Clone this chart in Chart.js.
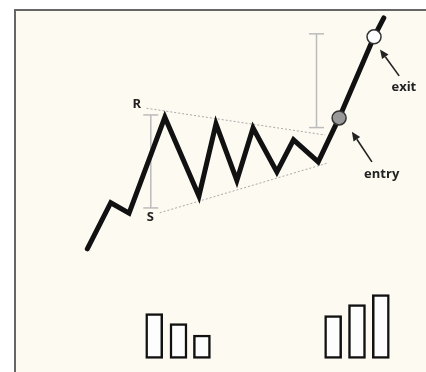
<!DOCTYPE html>
<html>
<head>
<meta charset="utf-8">
<title>Symmetrical triangle breakout</title>
<script src="https://cdn.jsdelivr.net/npm/chart.js@4/dist/chart.umd.min.js"></script>
<style>
  html, body { margin: 0; padding: 0; background: #fff; }
  #chart { display: block; }
</style>
</head>
<body>
<canvas id="chart" width="426" height="372"></canvas>
<script>
// ---- data (x = time, y = price, both on a 0..100 scale) ----
var priceX = [20.5, 26.0, 30.3, 38.7, 46.7, 50.7, 55.6, 59.4, 65.0, 68.9, 74.7, 79.6, 87.8, 90.1];
var priceY = [33.1, 45.5, 42.7, 68.5, 47.3, 66.7, 51.5, 65.6, 53.8, 62.4, 56.5, 68.3, 90.1, 95.2];

var resistX = [34.4, 76.3];
var resistY = [70.9, 63.7];
var supportX = [37.5, 76.7];
var supportY = [42.8, 56.1];

// R-S height of the pattern and the projected target above the breakout
var rangeX = [35.4, 35.4];
var rangeY = [69.1, 44.1];
var targetX = [74.3, 74.3];
var targetY = [90.9, 65.7];

var markerNames = ["entry", "exit"];
var markerX = [79.6, 87.8];
var markerY = [68.3, 90.1];

var volumeX = [36.2, 41.9, 47.4, 78.2, 83.8, 89.4];
var volumeY = [4.5, 3.5, 2.35, 4.3, 5.4, 6.4];

var labelText = ["R", "S", "exit", "entry"];
var labelX = [32.1, 35.3, 94.8, 89.6];
var labelY = [72.0, 41.7, 76.6, 53.2];

// arrows: tail -> tip
var arrowFromX = [93.7, 87.3];
var arrowFromY = [79.6, 56.5];
var arrowToX = [89.2, 82.6];
var arrowToY = [86.7, 64.6];

function pts(xs, ys) {
  return xs.map(function (x, i) { return { x: x, y: ys[i] }; });
}

var CREAM = "#fdfaf1";

var framePlugin = {
  id: "frame",
  beforeDraw: function (chart) {
    var ctx = chart.ctx;
    ctx.save();
    ctx.fillStyle = "#fff";
    ctx.fillRect(0, 0, chart.width, chart.height);
    ctx.fillStyle = CREAM;
    ctx.fillRect(14, 9, chart.width, chart.height);
    ctx.strokeStyle = "#666";
    ctx.lineWidth = 2;
    ctx.beginPath();
    ctx.moveTo(15, chart.height);
    ctx.lineTo(15, 10);
    ctx.lineTo(chart.width, 10);
    ctx.stroke();
    ctx.restore();
  }
};

var notesPlugin = {
  id: "notes",
  afterDatasetsDraw: function (chart) {
    var ctx = chart.ctx;
    var sx = chart.scales.x, sy = chart.scales.y;
    ctx.save();
    // arrows
    ctx.strokeStyle = "#222";
    ctx.fillStyle = "#222";
    ctx.lineWidth = 1.6;
    arrowFromX.forEach(function (fx, i) {
      var x0 = sx.getPixelForValue(fx), y0 = sy.getPixelForValue(arrowFromY[i]);
      var x1 = sx.getPixelForValue(arrowToX[i]), y1 = sy.getPixelForValue(arrowToY[i]);
      var a = Math.atan2(y1 - y0, x1 - x0);
      var head = 9, half = 4;
      var bx = x1 - head * Math.cos(a), by = y1 - head * Math.sin(a);
      ctx.beginPath();
      ctx.moveTo(x0, y0);
      ctx.lineTo(bx, by);
      ctx.stroke();
      ctx.beginPath();
      ctx.moveTo(x1, y1);
      ctx.lineTo(bx + half * Math.sin(a), by - half * Math.cos(a));
      ctx.lineTo(bx - half * Math.sin(a), by + half * Math.cos(a));
      ctx.closePath();
      ctx.fill();
    });
    // labels
    ctx.font = "bold 13px 'Open Sans', sans-serif";
    ctx.textAlign = "center";
    ctx.textBaseline = "middle";
    labelText.forEach(function (t, i) {
      ctx.fillText(t, sx.getPixelForValue(labelX[i]), sy.getPixelForValue(labelY[i]));
    });
    ctx.restore();
  }
};

var bracket = {
  type: "line",
  borderColor: "#bbb",
  borderWidth: 1.5,
  pointStyle: "line",
  pointRadius: 7.5,
  pointBorderColor: "#bbb",
  pointBorderWidth: 1.5,
  order: 5
};

new Chart(document.getElementById("chart"), {
  type: "line",
  data: {
    datasets: [
      {
        label: "volume",
        type: "bar",
        data: pts(volumeX, volumeY),
        yAxisID: "yVol",
        barThickness: 17,
        backgroundColor: "#fdfdfd",
        borderColor: "#111",
        borderWidth: 2.5,
        borderSkipped: false,
        order: 6
      },
      {
        label: "resistance",
        data: pts(resistX, resistY),
        borderColor: "#aaa",
        borderWidth: 1,
        borderDash: [2, 2],
        pointRadius: 0,
        order: 4
      },
      {
        label: "support",
        data: pts(supportX, supportY),
        borderColor: "#aaa",
        borderWidth: 1,
        borderDash: [2, 2],
        pointRadius: 0,
        order: 4
      },
      Object.assign({ label: "range", data: pts(rangeX, rangeY) }, bracket),
      Object.assign({ label: "target", data: pts(targetX, targetY) }, bracket),
      {
        label: "price",
        data: pts(priceX, priceY),
        borderColor: "#111",
        borderWidth: 5,
        borderJoinStyle: "miter",
        borderCapStyle: "round",
        pointRadius: 0,
        tension: 0,
        order: 1
      },
      {
        label: "signals",
        data: pts(markerX, markerY),
        showLine: false,
        pointRadius: 7,
        pointBackgroundColor: ["#999", "#fff"],
        pointBorderColor: "#333",
        pointBorderWidth: 1.5,
        order: 0
      }
    ]
  },
  options: {
    responsive: false,
    animation: false,
    events: [],
    layout: { padding: 0, autoPadding: false },
    plugins: { legend: { display: false }, tooltip: { enabled: false } },
    scales: {
      x: { type: "linear", min: 0, max: 100, offset: false, display: false },
      y: { type: "linear", min: 0, max: 100, display: false },
      yVol: { type: "linear", min: -1.35, max: 35.85, display: false }
    }
  },
  plugins: [framePlugin, notesPlugin]
});
</script>
</body>
</html>
